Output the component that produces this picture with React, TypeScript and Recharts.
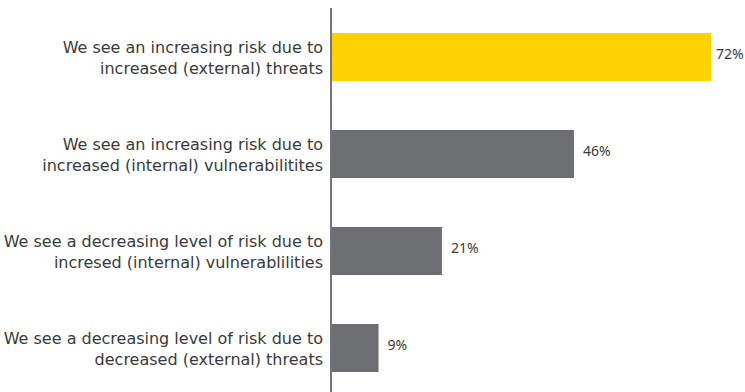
import React from "react";
import { BarChart, Bar, XAxis, YAxis, Cell, LabelList } from "recharts";

const categories = [
  ["We see an increasing risk due to", "increased (external) threats"],
  ["We see an increasing risk due to", "increased (internal) vulnerabilitites"],
  ["We see a decreasing level of risk due to", "incresed (internal) vulnerablilities"],
  ["We see a decreasing level of risk due to", "decreased (external) threats"],
];
const values = [72, 46, 21, 9];
const colors = ["#FCD200", "#6D6E72", "#6D6E72", "#6D6E72"];

const data = categories.map((c, i) => ({ name: c.join("|"), value: values[i] }));

const LABEL_FONT = "'DejaVu Sans', sans-serif";
const VALUE_FONT = "'Noto Sans', sans-serif";

const Tick = (props: any) => {
  const { x, y, payload } = props;
  const lines = String(payload.value).split("|");
  return (
    <text x={x} y={y} textAnchor="end" fill="#3a3a3a" fontSize={16} fontFamily={LABEL_FONT}>
      <tspan x={x} dy={-4}>{lines[0]}</tspan>
      <tspan x={x} dy={21}>{lines[1]}</tspan>
    </text>
  );
};

const ValueLabel = (props: any) => {
  const { x, y, width, height, value } = props;
  const tx = Math.min(x + width + 9, 716);
  return (
    <text x={tx} y={y + height / 2 + 2} fill="#3a3a3a" fontSize={14} fontFamily={VALUE_FONT}>
      {value}%
    </text>
  );
};

export default function App() {
  return (
    <div style={{ position: "absolute", left: 0, top: 0, width: 745, height: 392, overflow: "hidden", background: "#fff" }}>
      <BarChart
        width={745}
        height={396}
        data={data}
        layout="vertical"
        margin={{ top: 8, right: 2, bottom: 0, left: 0 }}
        barCategoryGap={24}
      >
        <XAxis type="number" domain={[0, 78]} hide />
        <YAxis
          type="category"
          dataKey="name"
          width={331}
          axisLine={{ stroke: "#747480", strokeWidth: 2 }}
          tickLine={false}
          tick={<Tick />}
          interval={0}
        />
        <Bar dataKey="value" barSize={48} isAnimationActive={false}>
          {data.map((d, i) => (
            <Cell key={i} fill={colors[i]} />
          ))}
          <LabelList dataKey="value" content={<ValueLabel />} />
        </Bar>
      </BarChart>
    </div>
  );
}
